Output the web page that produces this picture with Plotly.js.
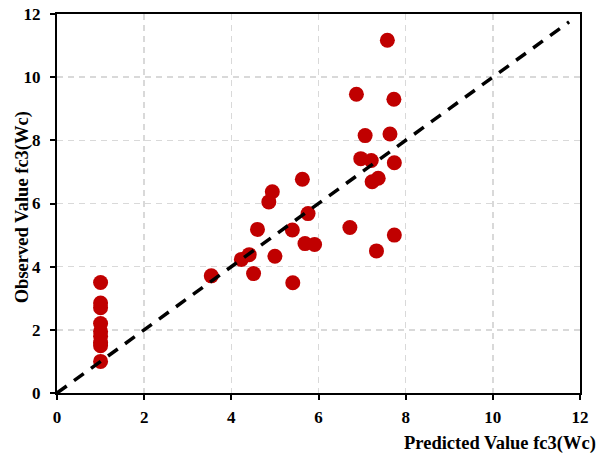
<!DOCTYPE html>
<html>
<head>
<meta charset="utf-8">
<script src="https://cdn.plot.ly/plotly-3.0.1.min.js"></script>
<style>html,body{margin:0;padding:0;background:#fff}#chart{width:603px;height:459px}</style>
</head>
<body>
<div id="chart"></div>
<script>
const predicted = [7.58, 6.87, 7.73, 7.64, 7.07, 6.97, 7.21, 7.74, 7.23, 7.37,
  5.63, 4.94, 4.86, 5.76, 4.60, 5.40, 6.72, 7.74, 5.69, 5.91,
  7.33, 5.00, 4.41, 4.23, 4.51, 3.54, 5.41,
  1, 1, 1, 1, 1, 1, 1, 1, 1];
const observed = [11.17, 9.46, 9.30, 8.20, 8.15, 7.42, 7.36, 7.29, 6.69, 6.80,
  6.77, 6.37, 6.05, 5.68, 5.18, 5.16, 5.24, 5.00, 4.73, 4.70,
  4.50, 4.33, 4.38, 4.23, 3.78, 3.71, 3.49,
  3.50, 2.85, 2.70, 2.20, 1.95, 1.80, 1.60, 1.50, 1.00];
const refLineX = [0, 11.75];
const refLineY = [0, 11.75];
const tickVals = [0, 2, 4, 6, 8, 10, 12];

const font = {family: '"Liberation Serif", "Times New Roman", serif', color: '#000'};

const traces = [
  {x: predicted, y: observed, type: 'scatter', mode: 'markers',
   marker: {color: '#C00000', size: 15, line: {width: 0}}, cliponaxis: false, showlegend: false},
  {x: refLineX, y: refLineY, type: 'scatter', mode: 'lines',
   line: {color: '#000', width: 3.5, dash: '12px,9px'}, showlegend: false}
];

function axis(standoff) {
  return {
    range: [0, 12], tickvals: tickVals, showline: true, mirror: true,
    linecolor: '#000', linewidth: 2, ticks: 'outside', ticklen: 5, tickwidth: 2, tickcolor: '#000',
    ticklabelstandoff: standoff,
    showgrid: true, gridcolor: '#d9d9d9', gridwidth: 1.5, griddash: '6px,5px',
    zeroline: false, tickfont: Object.assign({size: 17, weight: 'bold'}, font), fixedrange: true
  };
}

const layout = {
  width: 603, height: 459,
  margin: {l: 57, r: 23, t: 14, b: 66},
  paper_bgcolor: '#fff', plot_bgcolor: '#fff',
  xaxis: axis(3),
  yaxis: axis(6),
  annotations: [
    {text: '<b>Predicted Value fc3(Wc)</b>', xref: 'paper', yref: 'paper', x: 1, y: 0,
     xanchor: 'right', yanchor: 'middle', xshift: 18, yshift: -50, showarrow: false,
     font: Object.assign({size: 18.5}, font)},
    {text: '<b>Observed Value fc3(Wc)</b>', xref: 'paper', yref: 'paper', x: 0, y: 0.49,
     xanchor: 'center', yanchor: 'middle', xshift: -35, textangle: -90, showarrow: false,
     font: Object.assign({size: 18.5}, font)}
  ]
};

Plotly.newPlot('chart', traces, layout, {displayModeBar: false, staticPlot: true});
</script>
</body>
</html>
